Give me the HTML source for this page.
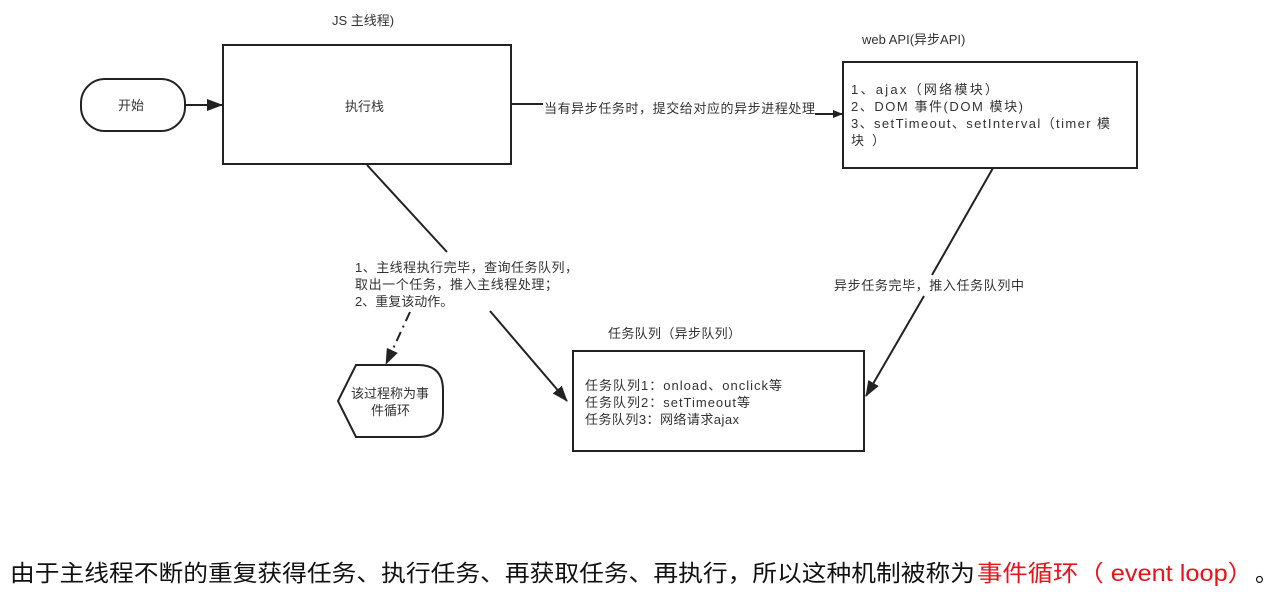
<!DOCTYPE html>
<html><head><meta charset="utf-8">
<style>
html,body{margin:0;padding:0;background:#fff;}
svg{display:block;}
text{font-family:"Liberation Sans","Noto Sans CJK SC",sans-serif;fill:#333;}
</style></head>
<body>
<svg width="1276" height="599" viewBox="0 0 1276 599" xmlns="http://www.w3.org/2000/svg">
<defs>
<marker id="a" markerWidth="10" markerHeight="8" refX="9" refY="4" orient="auto" markerUnits="userSpaceOnUse">
<path d="M0,0 L10,4 L0,8 Z" fill="#222"/>
</marker>
<marker id="b" markerWidth="16" markerHeight="12" refX="15" refY="6" orient="auto" markerUnits="userSpaceOnUse">
<path d="M0,0 L16,6 L0,12 Z" fill="#222"/>
</marker>
</defs>
<g stroke="#222" stroke-width="2" fill="#fff">
<rect x="81" y="79" width="104" height="52" rx="24"/>
<rect x="223" y="45" width="288" height="119"/>
<rect x="843" y="62" width="294" height="106"/>
<rect x="573" y="351" width="291" height="100"/>
<path d="M356,365 L418,365 Q443,365 443,390 L443,412 Q443,437 418,437 L356,437 L338,401 Z"/>
</g>
<g stroke="#222" stroke-width="2" fill="none">
<line x1="185" y1="105" x2="222" y2="105" marker-end="url(#b)"/>
<line x1="511" y1="104" x2="543" y2="104"/>
<line x1="815" y1="114" x2="842" y2="114" marker-end="url(#a)"/>
<line x1="367" y1="165" x2="447" y2="252"/>
<line x1="490" y1="311" x2="567" y2="401" marker-end="url(#b)"/>
<line x1="410" y1="312" x2="386" y2="364" stroke-dasharray="10,5,2,5" marker-end="url(#b)"/>
<line x1="993" y1="168" x2="932" y2="275"/>
<line x1="924" y1="296" x2="866" y2="396" marker-end="url(#b)"/>
</g>
<g font-size="13">
<text x="332" y="25">JS 主线程)</text>
<text x="118" y="110">开始</text>
<text x="345" y="111">执行栈</text>
<text x="544" y="113" textLength="271">当有异步任务时，提交给对应的异步进程处理</text>
<text x="862" y="44">web API(异步API)</text>
<text x="851" y="94" textLength="147">1、ajax（网络模块）</text>
<text x="851" y="111" textLength="172">2、DOM 事件(DOM 模块)</text>
<text x="851" y="128" textLength="259">3、setTimeout、setInterval（timer 模</text>
<text x="851" y="145" textLength="34">块）</text>
<text x="355" y="272" textLength="223">1、主线程执行完毕，查询任务队列，</text>
<text x="355" y="289" textLength="203">取出一个任务，推入主线程处理；</text>
<text x="355" y="306">2、重复该动作。</text>
<text x="834" y="290" textLength="190">异步任务完毕，推入任务队列中</text>
<text x="608" y="338" textLength="133">任务队列（异步队列）</text>
<text x="585" y="390" textLength="197">任务队列1：onload、onclick等</text>
<text x="585" y="407" textLength="165">任务队列2：setTimeout等</text>
<text x="585" y="424" textLength="154">任务队列3：网络请求ajax</text>
<text x="351" y="398">该过程称为事</text>
<text x="371" y="415">件循环</text>
</g>
<text x="10" y="581" font-size="23" textLength="965" lengthAdjust="spacingAndGlyphs" style="fill:#111">由于主线程不断的重复获得任务、执行任务、再获取任务、再执行，所以这种机制被称为</text>
<text x="977" y="581" font-size="23" textLength="276" lengthAdjust="spacingAndGlyphs" style="fill:#e8131b">事件循环（ event loop）</text>
<text x="1255" y="581" font-size="23" style="fill:#111">。</text>
</svg>
</body></html>
